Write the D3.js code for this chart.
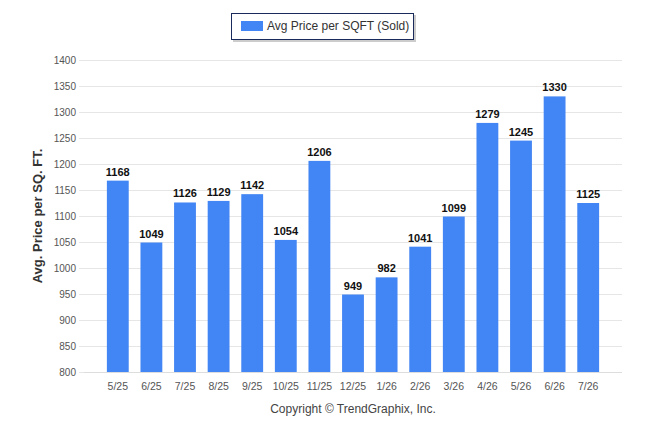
<!DOCTYPE html>
<html><head><meta charset="utf-8">
<script src="https://cdn.jsdelivr.net/npm/d3@7"></script>
<style>body{margin:0;background:#fff}text{font-family:"Liberation Sans",Arial,sans-serif}</style>
</head><body><svg id="c" width="646" height="434"></svg>
<script>
const categories=["5/25","6/25","7/25","8/25","9/25","10/25","11/25","12/25","1/26","2/26","3/26","4/26","5/26","6/26","7/26"];
const values=[1168,1049,1126,1129,1142,1054,1206,949,982,1041,1099,1279,1245,1330,1125];
const yTicks=[800,850,900,950,1000,1050,1100,1150,1200,1250,1300,1350,1400];
const svg=d3.select("#c");
const x=d3.scaleBand().domain(categories).range([101,605]).paddingInner(0.35).paddingOuter(0.175);
const y=d3.scaleLinear().domain([800,1400]).range([372,60]);
svg.append("g").selectAll("line").data(yTicks).join("line")
 .attr("x1",79).attr("x2",622).attr("y1",d=>y(d)+.5).attr("y2",d=>y(d)+.5).attr("stroke","#e6e6e6");
svg.append("g").selectAll("text").data(yTicks).join("text")
 .attr("x",76).attr("y",d=>y(d)+4).attr("text-anchor","end").attr("font-size",10).attr("fill","#555").text(d=>d);
svg.append("line").attr("x1",84).attr("x2",622).attr("y1",372.5).attr("y2",372.5).attr("stroke","#ddd");
svg.append("g").selectAll("rect").data(values).join("rect")
 .attr("x",(d,i)=>x(categories[i])).attr("width",x.bandwidth()).attr("y",d=>y(d)).attr("height",d=>372-y(d)).attr("fill","#4285f4");
svg.append("g").selectAll("text").data(values).join("text")
 .attr("x",(d,i)=>x(categories[i])+x.bandwidth()/2).attr("y",d=>y(d)-5).attr("text-anchor","middle")
 .attr("font-size",11).attr("font-weight","bold").attr("fill","#111").text(d=>d);
svg.append("g").selectAll("text").data(categories).join("text")
 .attr("x",d=>x(d)+x.bandwidth()/2).attr("y",390).attr("text-anchor","middle").attr("font-size",10.5).attr("fill","#555").text(d=>d);
svg.append("text").attr("transform","translate(42,216) rotate(-90)").attr("text-anchor","middle")
 .attr("font-size",13).attr("font-weight","bold").attr("fill","#333").text("Avg. Price per SQ. FT.");
svg.append("text").attr("x",353).attr("y",413).attr("text-anchor","middle").attr("font-size",12).attr("fill","#444").text("Copyright © TrendGraphix, Inc.");
svg.append("rect").attr("x",233).attr("y",15).attr("width",183).attr("height",27).attr("fill","#999").attr("opacity",.5);
svg.append("rect").attr("x",231.5).attr("y",13.5).attr("width",182).attr("height",26).attr("fill","#fff").attr("stroke","#1a2a5a");
svg.append("rect").attr("x",241).attr("y",21).attr("width",22).attr("height",10).attr("fill","#4285f4");
svg.append("text").attr("x",267).attr("y",30).attr("font-size",12).attr("fill","#333").text("Avg Price per SQFT (Sold)");
</script></body></html>
